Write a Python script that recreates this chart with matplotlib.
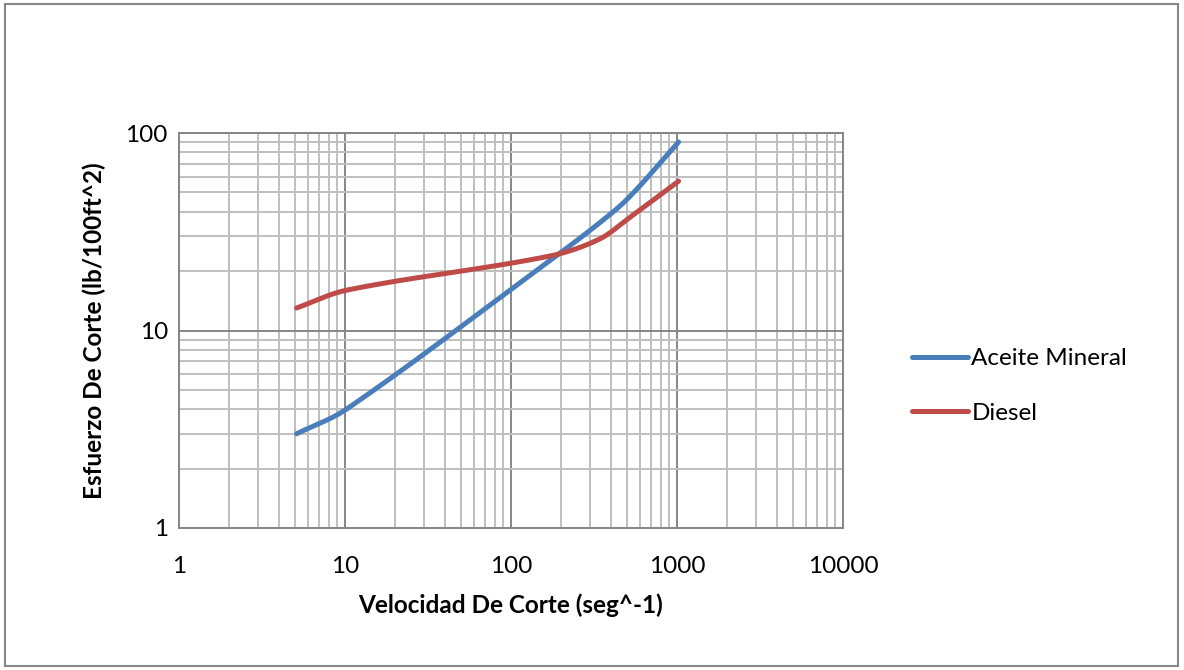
import numpy as np
import matplotlib
matplotlib.use("Agg")
import matplotlib.pyplot as plt
import matplotlib.patches as patches
from matplotlib.ticker import LogLocator, NullFormatter, FixedLocator, FixedFormatter

plt.rcParams['font.family'] = ['Lato', 'DejaVu Sans']

# viscometer shear rates (3, 6, 100, 200, 300, 600 rpm)
shear_rate = [5.11, 10.22, 170.3, 340.6, 511.0, 1022.0]
aceite_mineral = [3.0, 4.0, 22.5, 35.0, 47.0, 90.0]
diesel = [13.0, 16.0, 23.8, 29.0, 37.0, 57.0]

x_ticks = [1, 10, 100, 1000, 10000]
y_ticks = [1, 10, 100]

FS = 17.5


def smooth(xs, ys, n=40):
    # bezier through the points in log-log space, tangent handles scaled by segment length
    pts = np.column_stack([np.log10(xs), np.log10(ys)])
    m = len(pts)
    tang = []
    for i in range(m):
        a = pts[max(i - 1, 0)]
        b = pts[min(i + 1, m - 1)]
        d = b - a
        tang.append(d / np.hypot(*d))
    out = []
    for i in range(m - 1):
        p1, p2 = pts[i], pts[i + 1]
        L = np.hypot(*(p2 - p1)) / 3.0
        c1 = p1 + tang[i] * L
        c2 = p2 - tang[i + 1] * L
        t = np.linspace(0, 1, n)[:, None]
        seg = ((1 - t) ** 3) * p1 + 3 * ((1 - t) ** 2) * t * c1 + 3 * (1 - t) * t ** 2 * c2 + t ** 3 * p2
        out.append(seg if i == 0 else seg[1:])
    out = np.vstack(out)
    return 10 ** out[:, 0], 10 ** out[:, 1]


fig = plt.figure(figsize=(11.84, 6.70), dpi=100)
ax = fig.add_axes([179 / 1184, 1 - 528 / 670, (843 - 179) / 1184, (528 - 133) / 670])

ax.set_xscale('log')
ax.set_yscale('log')
ax.set_xlim(1, 10000)
ax.set_ylim(1, 100)

ax.xaxis.set_major_locator(FixedLocator(x_ticks))
ax.xaxis.set_major_formatter(FixedFormatter([str(v) for v in x_ticks]))
ax.yaxis.set_major_locator(FixedLocator(y_ticks))
ax.yaxis.set_major_formatter(FixedFormatter([str(v) for v in y_ticks]))
ax.xaxis.set_minor_locator(LogLocator(base=10, subs=np.arange(2, 10)))
ax.yaxis.set_minor_locator(LogLocator(base=10, subs=np.arange(2, 10)))
ax.xaxis.set_minor_formatter(NullFormatter())
ax.yaxis.set_minor_formatter(NullFormatter())

ax.grid(which='minor', color='#bfbfbf', linewidth=1.4)
ax.grid(which='major', color='#868686', linewidth=1.4)
ax.set_axisbelow(True)
for s in ax.spines.values():
    s.set_color('#868686')
    s.set_linewidth(1.4)

ax.tick_params(which='both', length=0)
ax.tick_params(axis='x', pad=20, labelsize=FS)
ax.tick_params(axis='y', pad=8, labelsize=FS)

bx, by = smooth(shear_rate, aceite_mineral)
rx, ry = smooth(shear_rate, diesel)
ax.plot(bx, by, color='#4a7ebb', linewidth=3.6, solid_capstyle='round', label='Aceite Mineral')
ax.plot(rx, ry, color='#be4b48', linewidth=3.6, solid_capstyle='round', label='Diesel')

ax.set_xlabel('Velocidad De Corte (seg^-1)', fontsize=FS, fontweight='bold', labelpad=12)
ax.set_ylabel('Esfuerzo De Corte (lb/100ft^2)', fontsize=FS, fontweight='bold', labelpad=14)

leg = fig.legend(loc='center left', bbox_to_anchor=(890 / 1184, 1 - 386 / 670),
                 frameon=False, fontsize=FS, handlelength=2.3, handletextpad=0.15,
                 labelspacing=1.38)

# chart area border
fig.patches.append(patches.Rectangle((5 / 1184, 4 / 670), 1173 / 1184, 662 / 670,
                                     transform=fig.transFigure, fill=False,
                                     edgecolor='#868686', linewidth=1.5))

fig.savefig('out.png', dpi=100)
